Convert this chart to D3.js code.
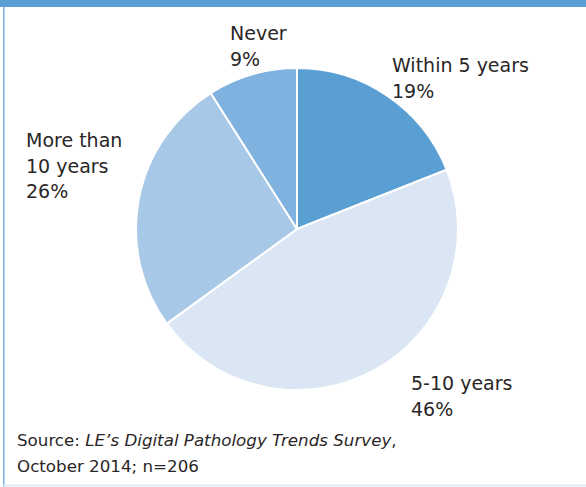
<!DOCTYPE html>
<html>
<head>
<meta charset="utf-8">
<script src="https://cdn.jsdelivr.net/npm/d3@7"></script>
<style>
  body { margin: 0; background: #fff; }
  text { font-family: "DejaVu Sans", sans-serif; fill: #2a2627; }
</style>
</head>
<body>
<div id="chart"></div>
<script>
// data
var categories = ["Within 5 years", "5-10 years", "More than 10 years", "Never"];
var values = [19, 46, 26, 9];
var colors = ["#5a9fd4", "#dae6f3", "#a8c8e7", "#7fb2de"];
// label lines for each slice
var labelLines = [["Within 5 years", "19%"], ["5-10 years", "46%"], ["More than", "10 years", "26%"], ["Never", "9%"]];

var width = 586, height = 487;
var cx = 297, cy = 229, radius = 161;

var svg = d3.select("#chart")
  .append("svg")
  .attr("width", width)
  .attr("height", height);

// frame: blue bar at top, thin border left and bottom
svg.append("rect").attr("x", 0).attr("y", 0).attr("width", width).attr("height", 7).attr("fill", "#5a9fd4");
svg.append("rect").attr("x", 3).attr("y", 7).attr("width", 1.5).attr("height", height - 7).attr("fill", "#7eb0df");
svg.append("rect").attr("x", 3).attr("y", height - 2.5).attr("width", width - 3).attr("height", 2).attr("fill", "#dcebf8");

var pie = d3.pie().sort(null).value(function(d) { return d; });
var arc = d3.arc().innerRadius(0).outerRadius(radius);

var g = svg.append("g")
  .attr("transform", "translate(" + cx + "," + cy + ")");

g.selectAll("path")
  .data(pie(values))
  .enter()
  .append("path")
    .attr("d", arc)
    .attr("fill", function(d, i) { return colors[i]; })
    .attr("stroke", "#fff")
    .attr("stroke-width", 2)
    .attr("stroke-linejoin", "round");

// label anchor spots (left x, first baseline)
var labelPos = [[392, 72], [411, 390], [26, 147], [230, 40]];
var lineH = 25.5;

var labels = svg.selectAll("text.lab")
  .data(labelLines)
  .enter()
  .append("text")
    .attr("class", "lab")
    .attr("font-size", 19);

labels.selectAll("tspan")
  .data(function(d, i) { return d.map(function(t) { return {t: t, i: i}; }); })
  .enter()
  .append("tspan")
    .attr("x", function(d) { return labelPos[d.i][0]; })
    .attr("y", function(d, j) { return labelPos[d.i][1] + j * lineH; })
    .text(function(d) { return d.t; });

// source note
var src = svg.append("text").attr("x", 17).attr("y", 446).attr("font-size", 16.7);
src.append("tspan").text("Source: ");
src.append("tspan").attr("font-style", "italic").text("LE\u2019s Digital Pathology Trends Survey");
src.append("tspan").text(",");
svg.append("text").attr("x", 17).attr("y", 472).attr("font-size", 16.7).text("October 2014; n=206");
</script>
</body>
</html>
